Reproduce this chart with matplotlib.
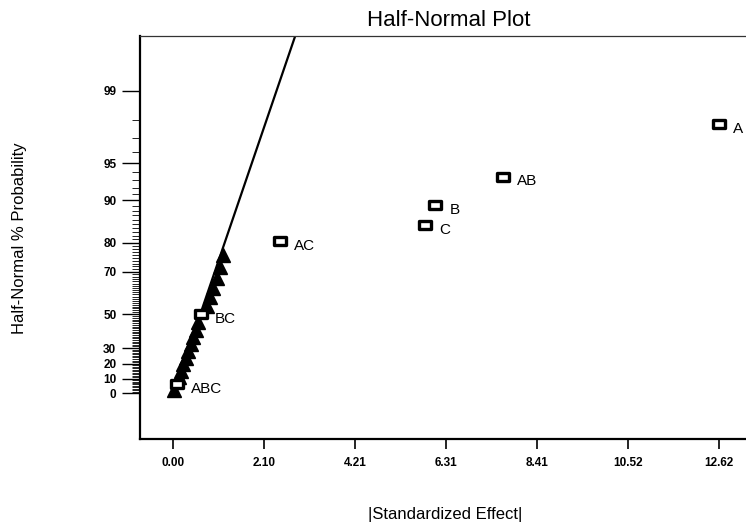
import matplotlib
matplotlib.use("Agg")
import matplotlib.pyplot as plt
from matplotlib.path import Path
from statistics import NormalDist

plt.rcParams['font.family'] = ['Liberation Sans', 'DejaVu Sans']

# ---- data ----
# |standardized effect| of all 23 estimates, ranked
effects = [0.02, 0.08, 0.12, 0.17, 0.23, 0.29, 0.35, 0.41, 0.46, 0.52, 0.58,
           0.64, 0.77, 0.85, 0.92, 1.00, 1.08, 1.15, 2.47, 5.82, 6.06, 7.63, 12.62]
# half-normal % probability of each estimate
probs = [2.2, 6.5, 10.9, 15.2, 19.6, 23.9, 28.3, 32.6, 37.0, 41.3, 45.7,
         50.0, 54.3, 58.7, 63.0, 67.4, 71.7, 76.1, 80.4, 84.8, 89.1, 93.5, 97.8]
# term labels ('' = error estimate, drawn as triangle)
labels = ['', 'ABC', '', '', '', '', '', '', '', '', '',
          'BC', '', '', '', '', '', '', 'AC', 'C', 'B', 'AB', 'A']

xticks = [0.00, 2.10, 4.21, 6.31, 8.41, 10.52, 12.62]
yticks = [0, 10, 20, 30, 50, 70, 80, 90, 95, 99]

# reference line: through origin, effect [0, 3.0] at probability [0, 99.88]
line_effect = [0.0, 3.0]
line_prob = [0.0, 99.88]

nd = NormalDist()
def hn(p):
    return nd.inv_cdf(0.5 + p / 200.0)

fig = plt.figure(figsize=(7.46, 5.23), dpi=100)
W, H = 746, 523
ax_l, ax_r, ax_t, ax_b = 140, 756, 36, 439
ax = fig.add_axes([ax_l / W, 1 - ax_b / H, (ax_r - ax_l) / W, (ax_b - ax_t) / H])

# line
ax.plot(line_effect, [hn(p) for p in line_prob], color='black', lw=1.6, zorder=2)

# marker for squares (wide rectangle)
rect = Path([(-1, -0.6), (1, -0.6), (1, 0.6), (-1, 0.6), (-1, -0.6)],
            [Path.MOVETO, Path.LINETO, Path.LINETO, Path.LINETO, Path.CLOSEPOLY])

for x, p, lab in zip(effects, probs, labels):
    z = hn(p)
    if lab == '':
        ax.plot([x], [z], marker='^', ms=9.5, color='black', mec='black',
                linestyle='none', zorder=3)
    else:
        ax.plot([x], [z], marker=rect, ms=8.5, mfc='white', mec='black',
                mew=2.4, linestyle='none', zorder=4)
        ax.annotate(lab, (x, z), xytext=(10, -3.5), textcoords='offset points',
                    ha='left', va='center', fontsize=11, color='black')

ax.set_xlim(-0.77, 13.47)
ax.set_ylim(-0.389, 3.042)

ax.set_xticks(xticks)
ax.set_xticklabels(['%.2f' % v for v in xticks], fontsize=8.5, fontweight='bold')
ax.set_yticks([hn(p) for p in yticks])
ax.set_yticklabels([str(v) for v in yticks], fontsize=8.5, fontweight='bold')

minor_p = [p for p in range(1, 99) if p not in yticks]
ax.set_yticks([hn(p) for p in minor_p], minor=True)

ax.tick_params(axis='y', which='major', length=13, width=1.0, direction='out', pad=4)
ax.tick_params(axis='y', which='minor', length=6, width=0.6, direction='out')
ax.tick_params(axis='x', which='major', length=7, width=1.2, direction='out', pad=6)

for s in ['left', 'bottom']:
    ax.spines[s].set_linewidth(1.6)
ax.spines['top'].set_linewidth(0.9)
ax.spines['top'].set_color('#333333')
ax.spines['right'].set_visible(False)

fig.text(449 / W, 1 - 21 / H, 'Half-Normal Plot', ha='center', va='center', fontsize=16)
fig.text(445 / W, 1 - 515 / H, '|Standardized Effect|', ha='center', va='center', fontsize=12)
fig.text(20 / W, 1 - 238 / H, 'Half-Normal % Probability', ha='center', va='center',
         fontsize=12, rotation=90)

fig.savefig('out.png', dpi=100)
